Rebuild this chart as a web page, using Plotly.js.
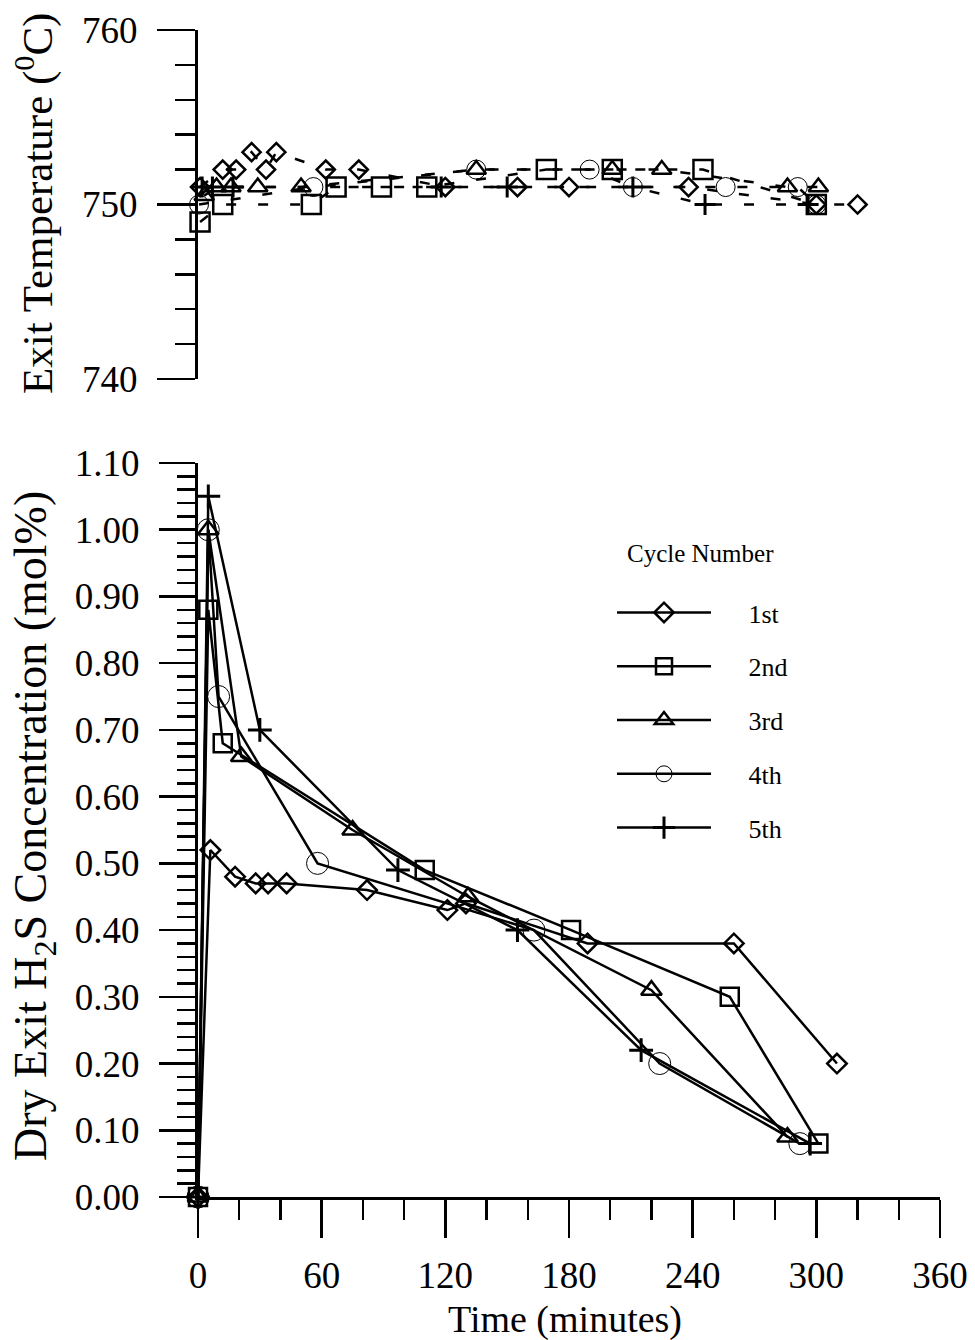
<!DOCTYPE html>
<html><head><meta charset="utf-8">
<script src="https://cdn.plot.ly/plotly-3.0.1.min.js"></script>
<style>body{margin:0;background:#fff}</style>
</head><body><div id="chart" style="width:975px;height:1340px"></div>
<script>
// ---- Exit temperature panel (deg C) ----
const temp1Time = [1, 12, 18.5, 26, 33, 38, 62, 78, 120, 155, 180, 238, 300, 320];
const temp1Val  = [751, 752, 752, 753, 752, 753, 752, 752, 751, 751, 751, 751, 750, 750];
const temp2Time = [1, 12, 55, 67, 89, 111, 169, 201, 245, 300];
const temp2Val  = [749, 750, 750, 751, 751, 751, 752, 752, 752, 750];
const temp3Time = [3, 9, 16, 29, 50, 135, 201, 225, 286, 301];
const temp3Val  = [750.5, 751, 751, 751, 751, 752, 752, 752, 751, 751];
const temp4Time = [0.5, 56, 135, 190, 211, 256, 291, 300];
const temp4Val  = [750, 751, 752, 752, 751, 751, 751, 750];
const temp5Time = [2, 7, 17, 118, 150, 211, 246, 296];
const temp5Val  = [751, 751, 751, 751, 751, 751, 750, 750];

// ---- Dry exit H2S concentration (mol%) ----
const h2s1Time = [0, 6, 18, 28, 34, 43, 82, 121, 130, 189, 260, 310];
const h2s1Val  = [0, 0.52, 0.48, 0.47, 0.47, 0.47, 0.46, 0.43, 0.44, 0.38, 0.38, 0.20];
const h2s2Time = [0, 5, 12, 110, 181, 258, 301];
const h2s2Val  = [0, 0.88, 0.68, 0.49, 0.40, 0.30, 0.08];
const h2s3Time = [0, 5, 21, 75, 131, 220, 286];
const h2s3Val  = [0, 1.00, 0.66, 0.55, 0.45, 0.31, 0.09];
const h2s4Time = [0, 5, 10, 58, 163, 224, 292];
const h2s4Val  = [0, 1.00, 0.75, 0.50, 0.40, 0.20, 0.08];
const h2s5Time = [0, 5, 30, 97, 155, 215, 297];
const h2s5Val  = [0, 1.05, 0.70, 0.49, 0.40, 0.22, 0.08];

const cycleNames = ['1st', '2nd', '3rd', '4th', '5th'];
const yTempTicks = [740, 750, 760];

const FONT = 'Liberation Serif, Times New Roman, serif';
const symbols = ['diamond-open', 'square-open', 'triangle-up-open', 'circle-open', 'cross-thin-open'];
const botSizes = [15, 18, 18, 22, 17];
const topSizes = [14, 19, 17, 19, 15];
const mlw = [2.5, 2.5, 2.5, 1, 3];

const tempT = [temp1Time, temp2Time, temp3Time, temp4Time, temp5Time];
const tempV = [temp1Val, temp2Val, temp3Val, temp4Val, temp5Val];
const h2sT = [h2s1Time, h2s2Time, h2s3Time, h2s4Time, h2s5Time];
const h2sV = [h2s1Val, h2s2Val, h2s3Val, h2s4Val, h2s5Val];

const PAD = '\u00a0\u00a0\u00a0\u00a0\u00a0';
const traces = [];
for (let i = 0; i < 5; i++) {
  traces.push({
    x: tempT[i], y: tempV[i], xaxis: 'x2', yaxis: 'y2', type: 'scatter', mode: 'lines+markers',
    showlegend: false, cliponaxis: false,
    line: {color: '#000', width: 2.5, dash: '10px,22px'},
    marker: {symbol: symbols[i], size: topSizes[i], color: '#000', line: {color: '#000', width: mlw[i]}}
  });
}
for (let i = 0; i < 5; i++) {
  traces.push({
    x: h2sT[i], y: h2sV[i], xaxis: 'x', yaxis: 'y', type: 'scatter', mode: 'lines+markers',
    name: PAD + cycleNames[i], legendgroup: 'g' + i, cliponaxis: false,
    line: {color: '#000', width: 2.5},
    marker: {symbol: symbols[i], size: botSizes[i], color: '#000', line: {color: '#000', width: mlw[i]}}
  });
}

const xDom = [198 / 975, 940 / 975];
const layout = {
  width: 975, height: 1340,
  margin: {l: 0, r: 0, t: 0, b: 0},
  paper_bgcolor: '#fff', plot_bgcolor: 'rgba(0,0,0,0)',
  font: {family: FONT, color: '#000'},
  showlegend: true,
  legend: {
    x: 612 / 975, y: 1 - 589 / 1340, xanchor: 'left', yanchor: 'top',
    bgcolor: 'rgba(0,0,0,0)', font: {family: FONT, size: 26, color: '#000'},
    traceorder: 'grouped', tracegroupgap: 17, itemwidth: 94
  },
  xaxis: {
    domain: xDom, anchor: 'y', range: [0, 360], tick0: 0, dtick: 60,
    ticks: 'outside', ticklen: 38, tickwidth: 2.5, tickcolor: '#000',
    minor: {dtick: 20, tick0: 0, ticks: 'outside', ticklen: 20, tickwidth: 2.5, tickcolor: '#000', showgrid: false},
    showline: true, linewidth: 3, linecolor: '#000', showgrid: false, zeroline: false,
    tickfont: {family: FONT, size: 37, color: '#000'}, ticklabelstandoff: 6
  },
  yaxis: {
    domain: [1 - 1197 / 1340, 1 - 463 / 1340], anchor: 'x', range: [0, 1.1], tick0: 0, dtick: 0.1,
    tickformat: '.2f',
    ticks: 'outside', ticklen: 36, tickwidth: 2.5, tickcolor: '#000',
    minor: {dtick: 0.02, tick0: 0, ticks: 'outside', ticklen: 18, tickwidth: 2.5, tickcolor: '#000', showgrid: false},
    showline: true, linewidth: 3, linecolor: '#000', showgrid: false, zeroline: false,
    tickfont: {family: FONT, size: 37, color: '#000'}, ticklabelstandoff: 12
  },
  xaxis2: {domain: xDom, anchor: 'y2', range: [0, 360], visible: false},
  yaxis2: {
    domain: [1 - 379 / 1340, 1 - 30 / 1340], anchor: 'x2', range: [740, 760],
    tickvals: yTempTicks, ticktext: yTempTicks.map(String),
    ticks: 'outside', ticklen: 38, tickwidth: 2.5, tickcolor: '#000',
    minor: {dtick: 2, tick0: 740, ticks: 'outside', ticklen: 20, tickwidth: 2.5, tickcolor: '#000', showgrid: false},
    showline: true, linewidth: 3, linecolor: '#000', showgrid: false, zeroline: false,
    tickfont: {family: FONT, size: 37, color: '#000'}, ticklabelstandoff: 12
  },
  annotations: [
    {text: 'Exit Temperature (<sup>0</sup>C)', xref: 'paper', yref: 'paper', x: 34 / 975, y: 1 - 204 / 1340,
     xanchor: 'center', yanchor: 'middle',
     textangle: -90, showarrow: false, font: {family: FONT, size: 43, color: '#000'}},
    {text: 'Dry Exit H<sub>2</sub>S Concentration (mol%)', xref: 'paper', yref: 'paper', x: 34 / 975, y: 1 - 826 / 1340,
     xanchor: 'center', yanchor: 'middle',
     textangle: -90, showarrow: false, font: {family: FONT, size: 46, color: '#000'}},
    {text: 'Time (minutes)', xref: 'paper', yref: 'paper', x: 565 / 975, y: 1 - 1319 / 1340,
     xanchor: 'center', yanchor: 'middle',
     showarrow: false, font: {family: FONT, size: 38, color: '#000'}},
    {text: 'Cycle Number', xref: 'paper', yref: 'paper', x: 625 / 975, y: 1 - 553 / 1340,
     xanchor: 'left', yanchor: 'middle',
     showarrow: false, font: {family: FONT, size: 25, color: '#000'}}
  ]
};
Plotly.newPlot('chart', traces, layout, {staticPlot: true, displayModeBar: false});
</script></body></html>
